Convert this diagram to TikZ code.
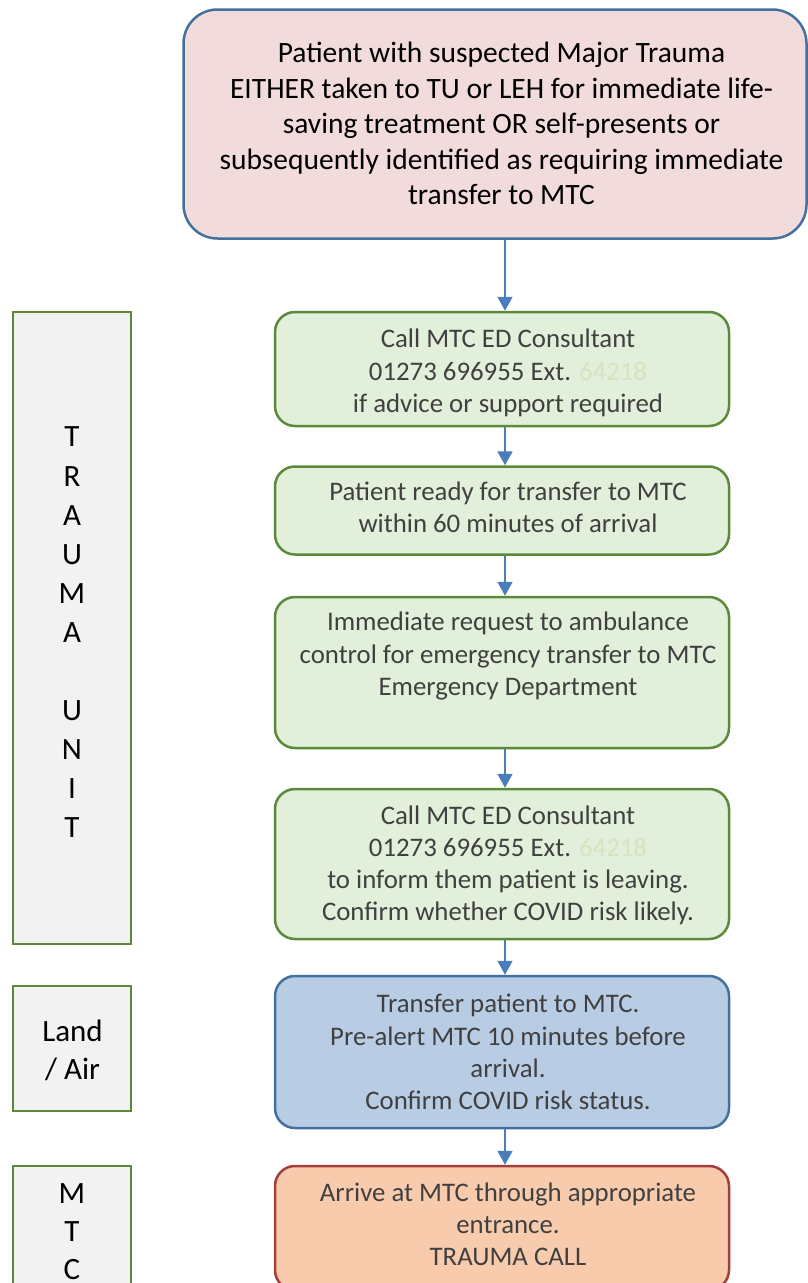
\documentclass[tikz,border=0pt]{standalone}
\usepackage{fontspec}
\setmainfont{Carlito}
\usetikzlibrary{arrows.meta}
\definecolor{pinkfill}{HTML}{F2DCDB}
\definecolor{blueline}{HTML}{41719C}
\definecolor{greenfill}{HTML}{E2EFDA}
\definecolor{greenline}{HTML}{5B8A3A}
\definecolor{bluefill}{HTML}{B8CCE4}
\definecolor{orangefill}{HTML}{F8CBAD}
\definecolor{redline}{HTML}{A33E3A}
\definecolor{greyfill}{HTML}{F2F2F2}
\definecolor{txtgrey}{HTML}{404040}
\definecolor{extgreen}{HTML}{D5E3BE}
\definecolor{arrowblue}{HTML}{4A7EBB}
\tikzset{
  topbox/.style={draw=blueline, fill=pinkfill, line width=2.5pt, rounded corners=34pt},
  toptext/.style={align=center, font=\fontsize{29.5}{35.5}\selectfont, text=black, inner sep=0pt},
  stepbox/.style={draw=greenline, fill=greenfill, line width=2.5pt, rounded corners=20pt,
    minimum width=454pt},
  steptext/.style={align=center, font=\fontsize{26.8}{32.2}\selectfont, text=txtgrey, inner sep=0pt},
  transbox/.style={stepbox, draw=blueline, fill=bluefill},
  arrivebox/.style={stepbox, draw=redline, fill=orangefill},
  sidebox/.style={draw=greenline, fill=greyfill, line width=2.5pt, minimum width=118pt},
  sidetext/.style={align=center, font=\fontsize{31}{39.1}\selectfont, text=black, inner sep=0pt},
  arr/.style={draw=arrowblue, line width=1.8pt, -{Triangle[length=14pt,width=15pt]}, arrowblue}
}
\begin{document}
\begin{tikzpicture}[x=1pt,y=-1pt]
\useasboundingbox (0,0) rectangle (808,1283);
\clip (0,0) rectangle (808,1283);

% boxes
\node[topbox, minimum width=623pt, minimum height=229pt] (start) at (495,124) {};
\node[stepbox, minimum height=114pt] (g1) at (502,369) {};
\node[stepbox, minimum height=88pt] (g2) at (502,510.5) {};
\node[stepbox, minimum height=151pt] (g3) at (502,672.5) {};
\node[stepbox, minimum height=150pt] (g4) at (502,864) {};
\node[transbox, minimum height=152pt] (tr) at (502,1052) {};
\node[arrivebox, minimum height=124pt] (ar) at (502,1228) {};
\node[sidebox, minimum height=632pt] (tu) at (72,628) {};
\node[sidebox, minimum height=125pt] (la) at (72,1048.5) {};
\node[sidebox, minimum height=134pt] (mtc) at (72,1233) {};

% texts
\node[toptext] (startt) at (501.5,123.5)
  {Patient with suspected Major Trauma\\EITHER taken to TU or LEH for immediate life-\\saving treatment OR self-presents or\\subsequently identified as requiring immediate\\transfer to MTC};
\node[steptext] (g1t) at (508,373)
  {Call MTC ED Consultant\\01273 696955 Ext. \textcolor{extgreen}{64218}\\if advice or support required};
\node[steptext] (g2t) at (508,507)
  {Patient ready for transfer to MTC\\within 60 minutes of arrival};
\node[steptext] (g3t) at (508,656)
  {Immediate request to ambulance\\control for emergency transfer to MTC\\Emergency Department};
\node[steptext] (g4t) at (508,865.5)
  {Call MTC ED Consultant\\01273 696955 Ext. \textcolor{extgreen}{64218}\\to inform them patient is leaving.\\Confirm whether COVID risk likely.};
\node[steptext] (trt) at (508,1052)
  {Transfer patient to MTC.\\Pre-alert MTC 10 minutes before\\arrival.\\Confirm COVID risk status.};
\node[steptext] (art) at (508,1224)
  {Arrive at MTC through appropriate\\entrance.\\TRAUMA CALL};
\node[sidetext] (tut) at (72,632.5)
  {T\\R\\A\\U\\M\\A\\[39.1pt]U\\N\\I\\T};
\node[sidetext, font=\fontsize{31}{38}\selectfont] (lat) at (72.5,1050.5)
  {Land\\/ Air};
\node[sidetext, font=\fontsize{31}{38}\selectfont] (mtct) at (72,1231.5)
  {M\\T\\C};

% connectors
\draw[arr] (start.south -| 505,0) -- (g1.north -| 505,0);
\draw[arr] (g1.south -| 505,0) -- (g2.north -| 505,0);
\draw[arr] (g2.south -| 505,0) -- (g3.north -| 505,0);
\draw[arr] (g3.south -| 505,0) -- (g4.north -| 505,0);
\draw[arr] (g4.south -| 505,0) -- (tr.north -| 505,0);
\draw[arr] (tr.south -| 505,0) -- (ar.north -| 505,0);
\end{tikzpicture}
\end{document}
